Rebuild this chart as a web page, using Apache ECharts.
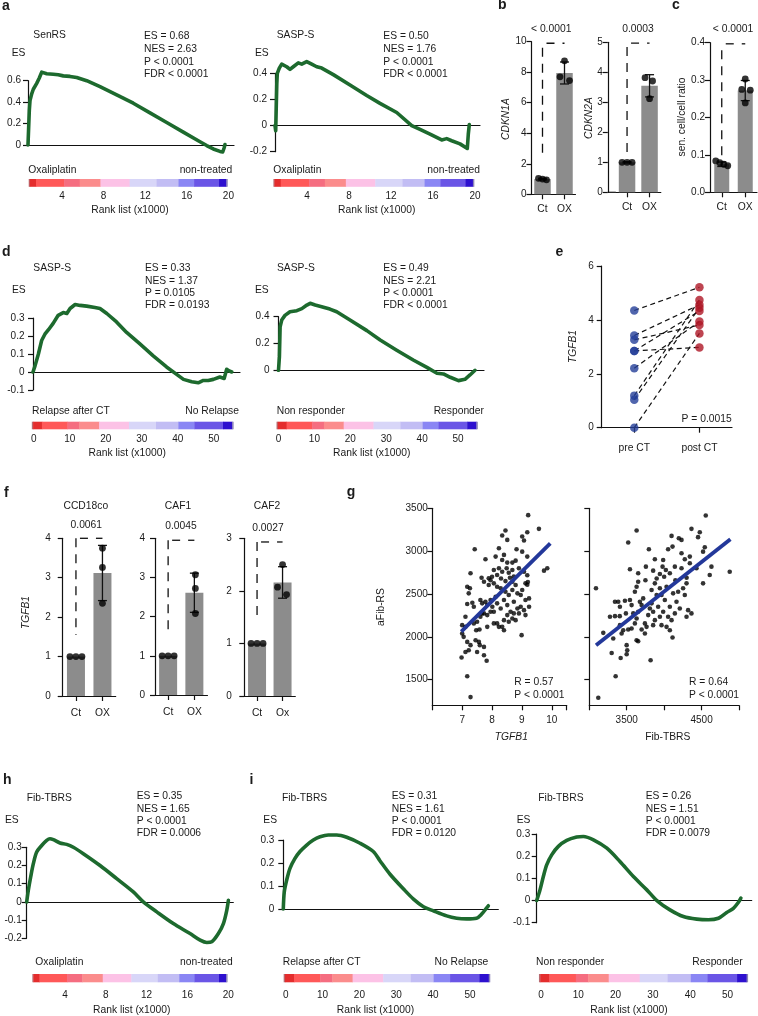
<!DOCTYPE html>
<html><head><meta charset="utf-8">
<script src="https://cdn.jsdelivr.net/npm/echarts@6/dist/echarts.min.js"></script>
<style>html,body{margin:0;padding:0;background:#fff}#c{width:758px;height:1016px}</style>
</head><body><div id="c"></div>
<script>
// ================= DATA =================
// GSEA running enrichment curves: [rank (x1000), enrichment score]
const senrsCurve = [[0,0],[0.03,0],[0.13,0.32],[0.2,0.415],[0.37,0.477],[0.53,0.52],[0.87,0.575],[1.13,0.625],[1.37,0.68],[1.53,0.675],[1.87,0.665],[2.53,0.66],[3.03,0.655],[3.53,0.645],[4.2,0.64],[4.87,0.63],[5.87,0.60],[7.2,0.545],[8.87,0.468],[10.53,0.39],[12.2,0.30],[13.87,0.21],[15.53,0.12],[17.2,0.03],[17.87,-0.005],[18.53,-0.037],[19.2,-0.06],[19.47,-0.065],[19.6,-0.03],[19.7,0.005]];
const saspOxCurve = [[0,0],[0.07,-0.04],[0.18,0.32],[0.23,0.40],[0.43,0.44],[0.67,0.47],[1.17,0.45],[1.5,0.43],[1.83,0.45],[2.33,0.48],[2.67,0.47],[3.17,0.49],[3.67,0.47],[4.17,0.45],[4.67,0.44],[5.83,0.39],[7.5,0.31],[9.17,0.23],[10.5,0.17],[12.17,0.10],[13.67,0],[14.5,-0.03],[15.5,-0.065],[16.67,-0.11],[17.17,-0.10],[17.67,-0.116],[18.5,-0.14],[19.23,-0.175],[19.33,-0.065],[19.43,0.008]];
const saspRelapseCurve = [[0,0],[0.56,0.034],[1.5,0.10],[2.4,0.175],[3.3,0.21],[4.3,0.235],[5.6,0.27],[7.0,0.315],[8.4,0.33],[9.4,0.325],[10.3,0.353],[11.7,0.375],[13.1,0.37],[14.9,0.366],[17.2,0.358],[18.6,0.353],[20.5,0.325],[23.2,0.278],[26,0.22],[29.7,0.156],[33.4,0.09],[37.1,0.028],[39.9,-0.013],[41.8,-0.041],[44.1,-0.054],[45.9,-0.06],[47.3,-0.047],[48.7,-0.047],[50.1,-0.041],[51.9,-0.028],[53.1,-0.036],[53.8,0.015],[54.5,0.006],[55.2,0]];
const saspResponseCurve = [[0,0],[0.25,0.10],[0.45,0.325],[0.9,0.375],[1.8,0.41],[3.2,0.437],[5.1,0.445],[6.5,0.46],[7.9,0.487],[8.8,0.50],[10.2,0.487],[12.0,0.475],[14.3,0.457],[16.2,0.437],[19.9,0.375],[24.6,0.296],[28.3,0.226],[32.9,0.15],[37.5,0.077],[41.3,0.022],[44.1,-0.022],[45.9,-0.027],[47.8,-0.052],[50.1,-0.077],[51.9,-0.067],[53.3,-0.035],[54.7,0.0]];
const fibOxCurve = [[0,0],[0.16,0.064],[0.39,0.137],[0.65,0.21],[0.98,0.274],[1.47,0.31],[1.96,0.338],[2.28,0.347],[2.61,0.342],[3.26,0.324],[3.92,0.316],[4.57,0.30],[5.55,0.265],[7.19,0.20],[8.82,0.128],[10.45,0.055],[11.43,0],[12.75,-0.055],[14.37,-0.119],[16.01,-0.174],[17.0,-0.21],[17.65,-0.223],[18.14,-0.219],[18.79,-0.174],[19.28,-0.119],[19.61,-0.046],[19.77,0.009]];
const fibRelapseCurve = [[0,0],[0.27,0.075],[0.92,0.126],[1.81,0.177],[3.17,0.22],[4.53,0.25],[6.35,0.278],[8.14,0.30],[9.96,0.314],[12.21,0.322],[14.49,0.322],[17.2,0.312],[20.8,0.286],[24.4,0.25],[26.2,0.21],[29.0,0.15],[32.6,0.087],[35.3,0.043],[38.0,0.01],[40.7,-0.008],[44.3,-0.03],[47.0,-0.04],[49.7,-0.043],[52.4,-0.04],[53.8,-0.022],[55.1,0.004],[55.6,0.014]];
const fibResponseCurve = [[0,0],[0.89,0.048],[1.78,0.108],[2.68,0.161],[4.02,0.206],[5.8,0.244],[8.04,0.271],[10.7,0.286],[12.5,0.289],[15.2,0.274],[18.8,0.236],[22.3,0.176],[25.9,0.108],[29.5,0.048],[32.2,0],[35.7,-0.042],[39.3,-0.072],[42.9,-0.084],[46.0,-0.087],[48.7,-0.08],[50.9,-0.054],[52.7,-0.035],[54.0,-0.009],[54.7,0.011]];
// colour-bar block boundaries of the ranked list (x1000)
const rankBounds20k = [0.8,0.9,1.5,4.2,5.7,7.7,10.5,13.1,15.2,16.7,19.1,19.8,19.9];
const rankBounds55k = [-0.55,-0.2,2.25,9.35,12.65,18.15,26.45,33.95,40.15,44.6,52.55,55.1,55.4];
// GSEA statistics
const statsSenRS = ['ES = 0.68','NES = 2.63','P < 0.0001','FDR < 0.0001'];
const statsSaspOx = ['ES = 0.50','NES = 1.76','P < 0.0001','FDR < 0.0001'];
const statsSaspRelapse = ['ES = 0.33','NES = 1.37','P = 0.0105','FDR = 0.0193'];
const statsSaspResponse = ['ES = 0.49','NES = 2.21','P < 0.0001','FDR < 0.0001'];
const statsFibOx = ['ES = 0.35','NES = 1.65','P < 0.0001','FDR = 0.0006'];
const statsFibRelapse = ['ES = 0.31','NES = 1.61','P < 0.0001','FDR = 0.0120'];
const statsFibResponse = ['ES = 0.26','NES = 1.51','P < 0.0001','FDR = 0.0079'];
// bar charts (b, c, f)
const barCats = ['Ct','OX'];
const barCatsOx = ['Ct','Ox'];
const cdkn1aMean = [1.0, 7.95], cdkn1aSD = [0.05, 0.72], cdkn1aCt = [1.05,1.0,0.95], cdkn1aOX = [8.75,7.7,7.45];
const cdkn2aMean = [1.0, 3.55], cdkn2aSD = [0.02, 0.37], cdkn2aCt = [1.0,1.0,1.0], cdkn2aOX = [3.82,3.71,3.12];
const senMean = [0.075, 0.272], senSD = [0.006, 0.027], senCt = [0.084,0.079,0.075,0.071], senOX = [0.303,0.275,0.273,0.239];
const ccdMean = [1.0, 3.12], ccdSD = [0, 0.7], ccdCt = [1,1,1], ccdOX = [3.75,3.26,2.35];
const caf1Mean = [1.0, 2.61], caf1SD = [0, 0.5], caf1Ct = [1,1,1], caf1OX = [3.07,2.72,2.08];
const caf2Mean = [1.0, 2.16], caf2SD = [0, 0.3], caf2Ct = [1,1,1], caf2OX = [2.5,2.07,1.93];
// e: paired TGFB1
const pairCats = ['pre CT','post CT'];
const tgfPre  = [4.35,3.42,3.26,2.85,2.85,2.21,1.19,1.04,0];
const tgfPost = [5.21,4.56,3.81,2.98,4.33,3.94,4.74,4.45,3.5];
// g: scatter [x, aFib-RS]
const tgfb1Scatter = [[9.91,3529],[9.21,3420],[8.45,3240],[9.57,3260],[9.18,3221],[8.34,3182],[8.51,3131],[9.01,3170],[9.07,3124],[7.42,3022],[8.23,3034],[8.82,3022],[9.01,2994],[7.78,2905],[8.12,2936],[8.4,2956],[9.18,2936],[8.34,2897],[8.51,2866],[8.68,2866],[8.79,2889],[7.28,2741],[8.06,2780],[8.23,2800],[8.17,2721],[8.34,2760],[8.49,2800],[8.56,2748],[8.68,2780],[8.73,2702],[8.9,2800],[9.07,2760],[9.18,2718],[9.74,2772],[9.85,2800],[7.89,2683],
[7.17,2584],[7.26,2566],[7.22,2507],[7.17,2382],[7.34,2397],[7.39,2350],[7.11,2233],[7.0,2136],[7.11,2116],[7.0,2039],[7.05,1999],[7.17,1940],[7.28,1902],[7.11,1823],[7.22,1843],[6.98,1758],[7.5,1823],[7.56,1940],[7.73,1785],[7.59,1902],[7.45,1960],[7.73,1882],[7.47,2077],[7.58,2085],[7.84,2116],[7.82,1720],[7.17,1539],[7.28,1296],[7.73,2273],[7.61,2233],[7.84,2253],[7.95,2292],[8.06,2156],[8.17,2156],[8.23,2116],[8.4,2077],[8.34,2116],[8.99,2019],[7.61,2429],[7.67,2390],[7.78,2409],[7.84,2370],[7.95,2429],[8.01,2350],[8.06,2292],[8.12,2468],[8.17,2390],[8.29,2331],[8.4,2429],[8.51,2370],[8.62,2292],[8.68,2214],[8.73,2273],[8.79,2194],[8.85,2331],[8.9,2273],[8.96,2350],[9.07,2311],[9.12,2429],[9.24,2448],[9.18,2607],[9.12,2624],[8.68,2546],[8.56,2487],[8.45,2526],[8.29,2566],[8.17,2584],[8.06,2624],[7.89,2604],[7.73,2643],[8.68,2643],[8.79,2604],[8.85,2507],[8.96,2487],[9.01,2546],[8.73,2409],[7.5,2175],[7.39,2156],[7.67,2273],[8.4,2194],[8.51,2253],[8.56,2175],[9.12,2253],[9.24,2350],[7.95,2660],[8.3,2680],[8.6,2690],[8.45,2650],[8.0,2700],[7.65,2690],[9.2,2640]];
const fibScatter = [[4773,3529],[4556,3416],[3632,3240],[3520,3100],[4365,3260],[4476,3221],[4099,3178],[4196,3151],[4232,3131],[4453,3163],[3796,3022],[4053,3022],[4112,3053],[4232,2975],[4343,2936],[4543,3045],[4520,2994],[3756,2819],[3876,2905],[3987,2897],[3653,2741],[3853,2772],[3943,2733],[3979,2819],[4023,2780],[4076,2741],[4143,2819],[4232,2800],[4276,2905],[4343,2858],[4432,2800],[4632,2819],[4609,2721],[4876,2760],[3543,2788],
[3089,2566],[3187,2046],[3320,1980],[3299,1811],[3419,1753],[3352,1539],[3120,1289],[3499,1902],[3507,1843],[3499,1796],[3632,1960],[3653,1948],[3819,1726],[4112,1992],[3343,2409],[3387,2409],[3343,2241],[3407,2241],[3476,2421],[3489,2273],[3543,2429],[3565,2370],[3587,2273],[3409,2136],[3432,2039],[3453,2077],[3520,2085],[3565,2097],[3609,2156],[3653,2292],[3676,2409],[3699,2370],[3720,2448],[3743,2156],[3765,2116],[3787,2253],[3809,2331],[3832,2390],[3853,2292],[3876,2194],[3899,2487],[3920,2350],[3943,2233],[3965,2136],[3987,2292],[4009,2429],[4032,2584],[4053,2233],[4076,2350],[4099,2194],[4120,2507],[4143,2273],[4165,2409],[4187,2526],[4209,2331],[4253,2566],[4276,2487],[4299,2624],[4320,2311],[4365,2273],[4520,2624],[3609,2526],[3632,2584],[3653,2643],[3832,2546],[3876,2624],[3943,2566],[3965,2487],[3409,2350],[3276,2233],[3632,2214],[3699,2085],[3743,2039],[3853,2136],[4032,2116],[4076,2077],[4299,2233],[3900,2680],[4150,2660],[4000,2700],[3750,2660],[4300,2690]];
const fitTgfb1 = [[6.97,2060],[9.95,3090]];
const fitFib = [[3090,1900],[4885,3140]];

// ================= STYLE =================
const FONT = "'Liberation Sans', Arial, Helvetica, sans-serif";
const INK = '#1a1a1a';
const GREEN = '#1d6a2e';
const BAR_GRAY = '#8c8c8c';
const CB_COLORS = ['#b86a70','#e42d2d','#ff5858','#f56d80','#fb8c8c','#fcc2e6','#d8d6f8','#c2bdf4','#8a86f4','#6a55e6','#2d10cf','#8c84b8'];

const grids=[], xAxes=[], yAxes=[], series=[], graphics=[];
const lineS = {color:'#111', width:1.2};
function merge(a,b){ for(const k in b){ const v=b[k]; if(v && typeof v==='object' && !Array.isArray(v) && a[k] && typeof a[k]==='object') merge(a[k], v); else a[k]=v; } return a; }
function addGrid(r){ grids.push(Object.assign({containLabel:false, outerBoundsMode:'none'}, r)); return grids.length-1; }
function axisBase(gi){ return {gridIndex:gi, splitLine:{show:false}, axisLine:{show:true, onZero:false, lineStyle:Object.assign({},lineS)}, axisTick:{show:true, length:5, lineStyle:Object.assign({},lineS)}, axisLabel:{show:true, color:INK, fontSize:10, fontFamily:FONT, margin:6}}; }
function addX(gi,o){ xAxes.push(merge(axisBase(gi),o)); return xAxes.length-1; }
function addY(gi,o){ yAxes.push(merge(axisBase(gi),o)); return yAxes.length-1; }
function fontStr(o, fs){ return (o.italic?'italic ':'')+(o.bold?'bold ':'')+fs+'px '+FONT; }
function T(x, base, s, o){ o=o||{}; const fs=o.fs||10.3; graphics.push({type:'text', x:x, y:base-0.35*fs, silent:true, style:{text:s, x:0, y:0, fill:INK, font:fontStr(o,fs), align:o.align||'left', verticalAlign:'middle', textAlign:o.align||'left', textVerticalAlign:'middle'}}); }
function TR(cx, cy, s, o){ o=o||{}; const fs=o.fs||10.3; graphics.push({type:'text', x:cx, y:cy, rotation:Math.PI/2, silent:true, style:{text:s, x:0, y:0, fill:INK, font:fontStr(o,fs), align:'center', verticalAlign:'middle', textAlign:'center', textVerticalAlign:'middle'}}); }

function addGsea(p){
  const g = addGrid({left:p.x, top:p.top, width:p.w, height:p.h});
  const xi = addX(g,{type:'value', min:0, max:p.xMax, axisLine:{onZero:true}, axisTick:{show:false}, axisLabel:{show:false}});
  const yi = addY(g,{type:'value', min:p.yMin, max:p.yMax, interval:p.yInt, axisLabel:{margin:p.yMargin}});
  series.push({type:'line', xAxisIndex:xi, yAxisIndex:yi, data:p.curve, showSymbol:false, clip:false, smooth:p.smooth||false, silent:true, z:3, lineStyle:{color:GREEN, width:3.6, cap:'round', join:'round'}});
  const cg = addGrid({left:p.cbX, top:p.cbTop, width:p.cbW, height:p.cbH});
  const cxi = addX(cg,{type:'value', min:0, max:p.cbMax, interval:p.cbInt, axisLine:{show:false}, axisTick:{show:false},
    axisLabel:{margin:p.cbMargin, showMaxLabel:p.cbMax===20, formatter:(v)=> ((p.hideZero && v===0) || v===55) ? '' : String(v)}});
  const cyi = addY(cg,{type:'value', min:0, max:1, show:false});
  const segs=[]; for(let i=0;i<p.bounds.length-1;i++) segs.push([p.bounds[i], p.bounds[i+1], i]);
  series.push({type:'custom', xAxisIndex:cxi, yAxisIndex:cyi, data:segs, encode:{x:[0,1]}, clip:false, silent:true,
    renderItem:(params, api)=>{ const a=api.coord([api.value(0),1]); const b=api.coord([api.value(1),0]);
      return {type:'rect', shape:{x:a[0], y:a[1], width:b[0]-a[0]+0.4, height:b[1]-a[1]}, style:{fill:CB_COLORS[api.value(2)]}}; }});
  T(p.titleX, p.titleB, p.title);
  T(p.esX, p.esB, 'ES');
  p.stats.forEach((s,i)=>T(p.statX, p.statB[i], s));
  T(p.lblLX, p.lblB, p.lblL);
  T(p.lblRX, p.lblB, p.lblR, {align:'right'});
  T(p.rankX, p.rankB, 'Rank list (x1000)', {align:'center'});
}

function addBars(p){
  const g = addGrid({left:p.x, top:p.top, width:p.w, height:p.h});
  const xi = addX(g,{type:'category', data:p.cats, boundaryGap:true, axisTick:{alignWithLabel:true}, axisLabel:{margin:p.xMargin, fontSize:10.3}});
  const yi = addY(g,{type:'value', min:0, max:p.yMax, interval:p.yInt, offset:p.yOffset||0, axisLabel:{margin:p.yMargin, formatter:p.fmt || ((v)=>String(v))}});
  if(p.yOffset){ // extend the x axis line to the offset y axis
    graphics.push({type:'line', silent:true, shape:{x1:p.x-p.yOffset, y1:p.top+p.h, x2:p.x, y2:p.top+p.h}, style:{stroke:'#111', lineWidth:1.2}});
  }
  series.push({type:'bar', xAxisIndex:xi, yAxisIndex:yi, data:p.mean, barWidth:p.bw, itemStyle:{color:BAR_GRAY}, silent:true, z:2});
  series.push({type:'custom', xAxisIndex:xi, yAxisIndex:yi, data:p.mean.map((m,i)=>[i,m,p.sd[i]]), encode:{x:0,y:1}, silent:true, z:3,
    renderItem:(params, api)=>{ const i=api.value(0), m=api.value(1), s=api.value(2); if(!s) return null;
      const t=api.coord([i,m+s]), b=api.coord([i,m-s]); const cw=4.5, st={stroke:'#111', lineWidth:1.3};
      return {type:'group', children:[
        {type:'line', shape:{x1:t[0],y1:t[1],x2:b[0],y2:b[1]}, style:st},
        {type:'line', shape:{x1:t[0]-cw,y1:t[1],x2:t[0]+cw,y2:t[1]}, style:st},
        {type:'line', shape:{x1:b[0]-cw,y1:b[1],x2:b[0]+cw,y2:b[1]}, style:st}]}; }});
  const pts=[]; p.dots.forEach((arr,i)=>arr.forEach((v,j)=>pts.push({value:[i,v], symbolOffset:[p.offs[i][j],0]})));
  series.push({type:'scatter', xAxisIndex:xi, yAxisIndex:yi, data:pts, symbolSize:6.8, itemStyle:{color:'#000'}, silent:true, z:4, clip:false});
  series.push({type:'custom', xAxisIndex:xi, yAxisIndex:yi, data:[[0,p.sig[0],p.sig[1],p.sig[2]]], encode:{x:0,y:1}, silent:true, z:5, clip:false,
    renderItem:(params, api)=>{ const a=api.coord([0,api.value(1)]), b=api.coord([0,api.value(2)]), h1=api.coord([0,api.value(3)]), h2=api.coord([1,api.value(3)]);
      return {type:'group', children:[
        {type:'line', shape:{x1:a[0],y1:a[1],x2:b[0],y2:b[1]}, style:{stroke:'#111', lineWidth:1.3, lineDash:[9,7]}},
        {type:'line', shape:{x1:h1[0],y1:h1[1],x2:h2[0],y2:h2[1]}, style:{stroke:'#111', lineWidth:1.3, lineDash:[8,8], lineDashOffset:12}}]}; }});
  T(p.pX, p.pB, p.pText, {align:'center'});
  if(p.title) T(p.pX2, p.titleB, p.title, {align:'center'});
  if(p.yName) TR(p.yNameX, p.yNameY, p.yName, {italic:p.yItalic});
}

// ---------------- panel a ----------------
addGsea({curve:senrsCurve, x:28, top:80.7, w:206, h:64.3, yMin:0, yMax:0.6, yInt:0.2, xMax:20.6, yMargin:7,
  cbX:20.4, cbW:208, cbMax:20, cbInt:4, cbTop:179, cbH:7.8, cbMargin:4, hideZero:true, bounds:rankBounds20k,
  title:'SenRS', titleX:33.3, titleB:39, esX:11.7, esB:56.7, stats:statsSenRS, statX:144, statB:[40,53,65.5,77.5],
  lblL:'Oxaliplatin', lblR:'non-treated', lblLX:28.3, lblRX:232.3, lblB:174, rankX:130, rankB:213.3});
addGsea({curve:saspOxCurve, x:275, top:73.3, w:205, h:78.4, yMin:-0.2, yMax:0.4, yInt:0.2, xMax:20.5, yMargin:8,
  cbX:265, cbW:210, cbMax:20, cbInt:4, cbTop:179, cbH:7.8, cbMargin:4, hideZero:true, bounds:rankBounds20k,
  title:'SASP-S', titleX:276.7, titleB:39, esX:255, esB:56.7, stats:statsSaspOx, statX:383.3, statB:[40,53,65.5,77.5],
  lblL:'Oxaliplatin', lblR:'non-treated', lblLX:273.3, lblRX:480, lblB:174, rankX:376.7, rankB:213.3});
// ---------------- panel d ----------------
addGsea({curve:saspRelapseCurve, x:33, top:318, w:207, h:72, yMin:-0.1, yMax:0.3, yInt:0.1, xMax:57.5, yMargin:8.5,
  cbX:33.8, cbW:198, cbMax:55, cbInt:10, cbTop:421.7, cbH:7.6, cbMargin:4.5, bounds:rankBounds55k,
  title:'SASP-S', titleX:33.3, titleB:272, esX:12, esB:293.5, stats:statsSaspRelapse, statX:145, statB:[272,284.5,297,309],
  lblL:'Relapse after CT', lblR:'No Relapse', lblLX:32, lblRX:239, lblB:415, rankX:127.2, rankB:456.7});
addGsea({curve:saspResponseCurve, x:278.5, top:316.7, w:205.5, h:53.6, yMin:0, yMax:0.4, yInt:0.2, xMax:57.2, yMargin:9,
  cbX:278.5, cbW:197.5, cbMax:55, cbInt:10, cbTop:421.7, cbH:7.6, cbMargin:4.5, bounds:rankBounds55k,
  title:'SASP-S', titleX:277, titleB:272, esX:255, esB:293.5, stats:statsSaspResponse, statX:383.3, statB:[272,284.5,297,309],
  lblL:'Non responder', lblR:'Responder', lblLX:276.7, lblRX:484, lblB:415, rankX:371.7, rankB:456.7});
// ---------------- panel h, i ----------------
addGsea({curve:fibOxCurve, x:26.7, top:847.3, w:206.6, h:91, yMin:-0.2, yMax:0.3, yInt:0.1, xMax:20.25, yMargin:5, smooth:0.3,
  cbX:24.2, cbW:204, cbMax:20, cbInt:4, cbTop:974, cbH:8.3, cbMargin:7.7, hideZero:true, bounds:rankBounds20k,
  title:'Fib-TBRS', titleX:26.7, titleB:801.7, esX:5, esB:824, stats:statsFibOx, statX:136.7, statB:[800,812.3,824.3,836.7],
  lblL:'Oxaliplatin', lblR:'non-treated', lblLX:35.3, lblRX:232.7, lblB:966, rankX:131.7, rankB:1013.3});
addGsea({curve:fibRelapseCurve, x:283.3, top:840, w:215, h:69, yMin:0, yMax:0.3, yInt:0.1, xMax:58.3, yMargin:9, smooth:0.3,
  cbX:285.7, cbW:202.7, cbMax:55, cbInt:10, cbTop:974, cbH:8.3, cbMargin:7.7, bounds:rankBounds55k,
  title:'Fib-TBRS', titleX:282, titleB:801.7, esX:263.3, esB:824, stats:statsFibRelapse, statX:391.7, statB:[800,812.3,824.3,836.7],
  lblL:'Relapse after CT', lblR:'No Relapse', lblLX:282.7, lblRX:488.3, lblB:966, rankX:375.5, rankB:1013.3});
addGsea({curve:fibResponseCurve, x:536.7, top:834, w:215, h:88.7, yMin:-0.1, yMax:0.3, yInt:0.1, xMax:57.6, yMargin:6.5, smooth:0.3,
  cbX:541, cbW:205.2, cbMax:55, cbInt:10, cbTop:974, cbH:8.3, cbMargin:7.7, bounds:rankBounds55k,
  title:'Fib-TBRS', titleX:538.3, titleB:802, esX:516.7, esB:823.5, stats:statsFibResponse, statX:645.7, statB:[800,812.3,824.3,836.7],
  lblL:'Non responder', lblR:'Responder', lblLX:536, lblRX:742.7, lblB:966, rankX:629, rankB:1013.3});

// ---------------- panel b, c ----------------
addBars({x:531.5, top:41.7, w:44, h:152.6, yMax:10, yInt:2, cats:barCats, mean:cdkn1aMean, sd:cdkn1aSD, dots:[cdkn1aCt,cdkn1aOX], offs:[[-4,0,4],[0,-4.5,5]], bw:16.5, yMargin:5, xMargin:9.5, sig:[9.6,2.4,9.9],
  pText:'< 0.0001', pX:551.2, pB:32.7, yName:'CDKN1A', yItalic:true, yNameX:505.8, yNameY:119});
addBars({x:615.8, top:42.3, w:45, h:150, yOffset:8, yMax:5, yInt:1, cats:barCats, mean:cdkn2aMean, sd:cdkn2aSD, dots:[cdkn2aCt,cdkn2aOX], offs:[[-5,0,5],[-4.5,3,0]], bw:16.5, yMargin:5, xMargin:9.5, sig:[4.84,1.31,4.97],
  pText:'0.0003', pX:638, pB:32.7, yName:'CDKN2A', yItalic:true, yNameX:589, yNameY:118});
addBars({x:710, top:42.7, w:47, h:149.6, yMax:0.4, yInt:0.1, fmt:(v)=>v.toFixed(1), cats:barCats, mean:senMean, sd:senSD, dots:[senCt,senOX], offs:[[-6,-2,2,6],[0,-3.5,5,0]], bw:15, yMargin:5, xMargin:9.5, sig:[0.38,0.095,0.397],
  pText:'< 0.0001', pX:733, pB:32.7, yName:'sen. cell/cell ratio', yItalic:false, yNameX:681.7, yNameY:117});
// ---------------- panel f ----------------
addBars({x:62.7, top:538.3, w:53, h:157.7, yMax:4, yInt:1, cats:barCats, mean:ccdMean, sd:ccdSD, dots:[ccdCt,ccdOX], offs:[[-6,0,6],[0,0,0]], bw:18, yMargin:12, xMargin:12.2, sig:[4.0,1.55,4.0],
  pText:'0.0061', pX:86.3, pB:529, title:'CCD18co', pX2:85.8, titleB:510, yName:'TGFB1', yItalic:true, yNameX:25.8, yNameY:612.5});
addBars({x:155, top:538.3, w:52.5, h:156.7, yMax:4, yInt:1, cats:barCats, mean:caf1Mean, sd:caf1SD, dots:[caf1Ct,caf1OX], offs:[[-6,0,6],[1,1,1]], bw:18, yMargin:10, xMargin:12.2, sig:[3.95,1.53,3.95],
  pText:'0.0045', pX:181, pB:529.3, title:'CAF1', pX2:178, titleB:510});
addBars({x:244.3, top:538.3, w:51, h:157.7, yMax:3, yInt:1, cats:barCatsOx, mean:caf2Mean, sd:caf2SD, dots:[caf2Ct,caf2OX], offs:[[-6,0,6],[0,-5,4]], bw:18, yMargin:12.5, xMargin:12.2, sig:[2.93,1.5,2.93],
  pText:'0.0027', pX:268, pB:531.7, title:'CAF2', pX2:267, titleB:510});

// ---------------- panel e ----------------
(function(){
  const g = addGrid({left:601.7, top:266, width:130.3, height:161.7});
  const xi = addX(g,{type:'category', data:pairCats, boundaryGap:true, axisTick:{alignWithLabel:true}, axisLabel:{margin:15.5, fontSize:10.3}});
  const yi = addY(g,{type:'value', min:0, max:6, interval:2, axisLabel:{margin:8}});
  series.push({type:'custom', xAxisIndex:xi, yAxisIndex:yi, data:tgfPre.map((v,i)=>[0,v,1,tgfPost[i]]), encode:{x:[0,2], y:[1,3]}, silent:true, z:2,
    renderItem:(params, api)=>{ const a=api.coord([0,api.value(1)]), b=api.coord([1,api.value(3)]);
      return {type:'line', shape:{x1:a[0],y1:a[1],x2:b[0],y2:b[1]}, style:{stroke:'#111', lineWidth:1.2, lineDash:[5,3.5]}}; }});
  series.push({type:'scatter', xAxisIndex:xi, yAxisIndex:yi, data:tgfPre.map(v=>[0,v]), symbolSize:8.5, itemStyle:{color:'#243f99'}, silent:true, z:4, clip:false});
  series.push({type:'scatter', xAxisIndex:xi, yAxisIndex:yi, data:tgfPost.map(v=>[1,v]), symbolSize:8.5, itemStyle:{color:'#ae1625'}, silent:true, z:4, clip:false});
  TR(573.3, 346.5, 'TGFB1', {italic:true});
  T(731.7, 422.5, 'P = 0.0015', {align:'right'});
})();

// ---------------- panel g ----------------
(function(){
  const yTicks = [1500,2000,2500,3000,3500];
  const g1 = addGrid({left:432.3, top:508.3, width:134.4, height:197});
  const x1 = addX(g1,{type:'value', min:6, max:10.5, interval:1, axisTick:{customValues:[6,7,8,9,10,10.5]}, axisLabel:{margin:9.5, customValues:[7,8,9,10], formatter:(v)=> v===6 ? '' : String(v)}});
  const y1 = addY(g1,{type:'value', min:1200, max:3500, axisTick:{customValues:yTicks}, axisLabel:{margin:4.5, customValues:yTicks, formatter:(v)=>String(v)}});
  series.push({type:'scatter', xAxisIndex:x1, yAxisIndex:y1, data:tgfb1Scatter, symbolSize:4.6, itemStyle:{color:'#000'}, silent:true, z:3});
  series.push({type:'line', xAxisIndex:x1, yAxisIndex:y1, data:fitTgfb1, showSymbol:false, silent:true, z:4, lineStyle:{color:'#23389a', width:3.8}});
  const g2 = addGrid({left:589.3, top:508.3, width:149.7, height:197});
  const x2 = addX(g2,{type:'value', min:3000, max:5000, interval:500, axisLabel:{margin:9.5, formatter:(v)=> (v===3500||v===4500) ? String(v) : ''}});
  const y2 = addY(g2,{type:'value', min:1200, max:3500, axisTick:{customValues:yTicks}, axisLabel:{show:false}});
  series.push({type:'scatter', xAxisIndex:x2, yAxisIndex:y2, data:fibScatter, symbolSize:4.6, itemStyle:{color:'#000'}, silent:true, z:3});
  series.push({type:'line', xAxisIndex:x2, yAxisIndex:y2, data:fitFib, showSymbol:false, silent:true, z:4, lineStyle:{color:'#23389a', width:3.8}});
  TR(380.8, 607, 'aFib-RS');
  T(511.3, 740.5, 'TGFB1', {align:'center', italic:true});
  T(667.8, 740.5, 'Fib-TBRS', {align:'center'});
  T(514.3, 685.7, 'R = 0.57'); T(514.3, 698.3, 'P < 0.0001');
  T(689, 685.7, 'R = 0.64'); T(689, 698.3, 'P < 0.0001');
})();

// panel letters
[['a',2,10.7],['b',498,10],['c',672,10],['d',2,257.3],['e',555.5,256.7],['f',4,498.3],['g',346.7,497.3],['h',3,785],['i',249.5,785]]
  .forEach(l=>T(l[1], l[2], l[0], {bold:true, fs:14}));

const chart = echarts.init(document.getElementById('c'), null, {renderer:'canvas', width:758, height:1016});
chart.setOption({animation:false, backgroundColor:'#fff', textStyle:{fontFamily:FONT, color:INK},
  grid:grids, xAxis:xAxes, yAxis:yAxes, series:series, graphic:{elements:graphics}});
</script></body></html>
